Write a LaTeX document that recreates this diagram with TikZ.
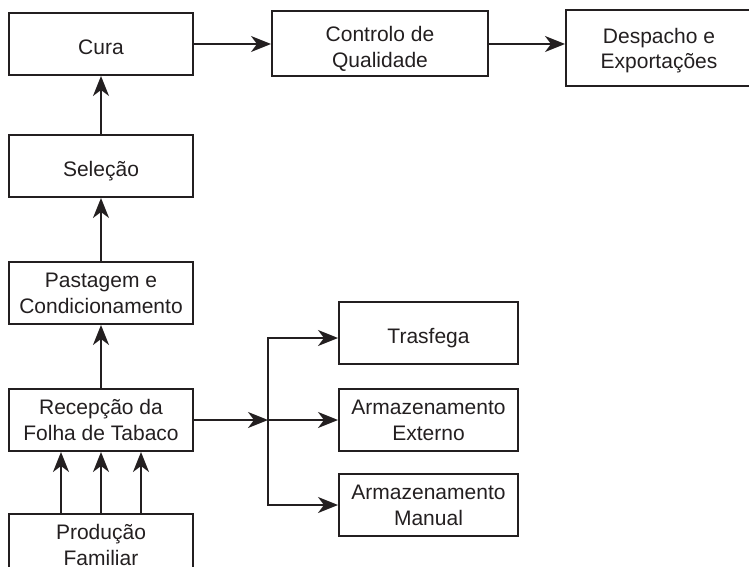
\documentclass[tikz,border=0pt]{standalone}
\usepackage{fontspec}
\setmainfont{Liberation Sans}
\usetikzlibrary{arrows.meta, positioning}
\definecolor{inkgray}{RGB}{35,31,32}

\begin{document}
\begin{tikzpicture}[
			x=0.5pt, y=-0.5pt,
			box/.style={draw=inkgray, line width=1pt, rectangle, minimum width=92pt, minimum height=31pt, inner sep=2pt, align=center, text=inkgray, font=\fontsize{10.5}{13}\selectfont},
			oneline/.style={text height=10.5pt, text depth=0pt},
			arrow/.style={draw=inkgray, line width=1pt, -{Stealth[length=10pt, width=8pt, inset=3pt]}}
		]

		% Page frame
		\useasboundingbox (0,0) rectangle (749,567);
		\clip (0,0) rectangle (749,567);

		% Draw the boxes
		\node[box, oneline] (cura) at (101,44) {Cura};
		\node[box, text height=24.6pt, text depth=0.6pt, minimum width=108pt, minimum height=32.5pt, right=38.5pt of cura] (controlo) {Controlo de\\Qualidade};
		\node[box, text height=23.2pt, text depth=2.2pt, minimum width=93pt, minimum height=38pt, right=38pt of controlo, yshift=-2pt] (despacho) {Despacho e\\Exportações};
		\node[box, oneline, below=29pt of cura] (selecao) {Seleção};
		\node[box, below=31.5pt of selecao] (pastagem) {Pastagem e\\Condicionamento};
		\node[box, below=31.5pt of pastagem] (recepcao) {Recepção da\\Folha de Tabaco};
		\node[box, below=30.5pt of recepcao] (producao) {Produção\\Familiar};
		\node[box, minimum width=89.5pt, right=72pt of recepcao] (externo) {Armazenamento\\Externo};
		\node[box, oneline, minimum width=89.5pt, above=11.5pt of externo] (trasfega) {Trasfega};
		\node[box, minimum width=89.5pt, below=10.5pt of externo] (manual) {Armazenamento\\Manual};
		\coordinate[right=37pt of recepcao.east] (split);

		% Draw the arrows
		\draw[arrow] (cura.east) -- (cura.east -| controlo.west);
		\draw[arrow] (controlo.east) -- (controlo.east -| despacho.west);
		\draw[arrow] (selecao) -- (cura);
		\draw[arrow] (pastagem) -- (selecao);
		\draw[arrow] (recepcao) -- (pastagem);
		\foreach \dx in {-20pt, 0pt, 20pt}
			\draw[arrow] ([xshift=\dx]producao.north) -- ([xshift=\dx]recepcao.south);
		\draw[arrow] (recepcao) -- (split);
		\draw[arrow] (split) -- (externo);
		\draw[arrow] (split) |- ([yshift=-2.5pt]trasfega.west);
		\draw[arrow] (split) |- (manual);

		\end{tikzpicture}
\end{document}
